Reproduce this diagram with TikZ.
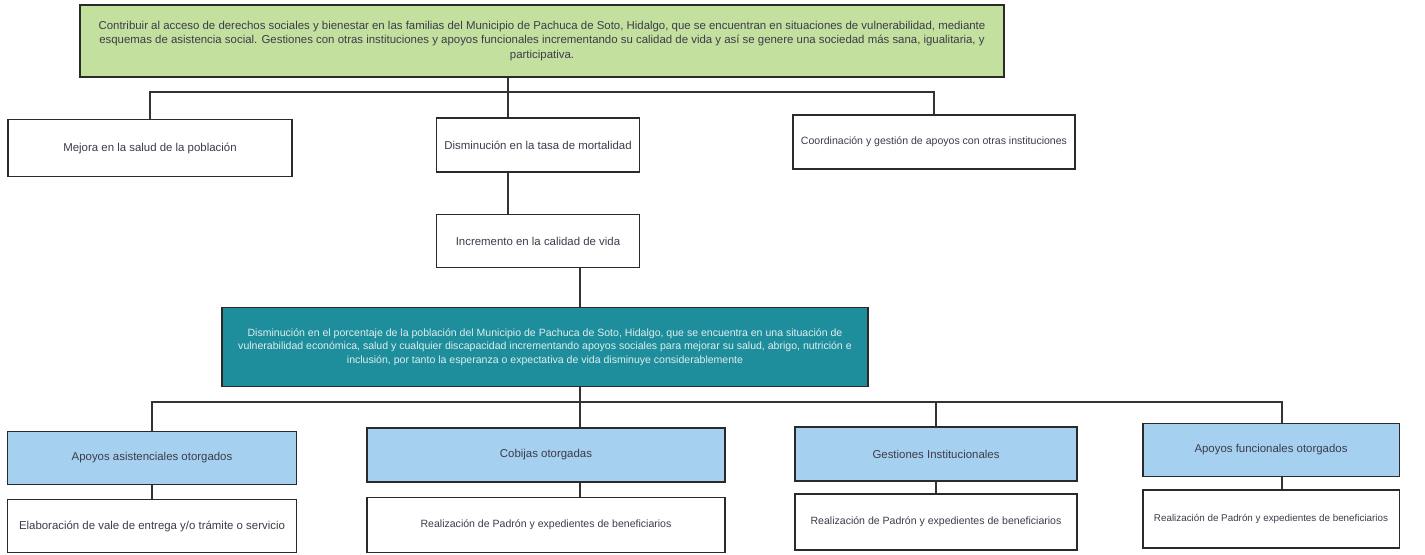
\documentclass[tikz,border=0pt]{standalone}
\usepackage{fontspec}
\setmainfont{Liberation Sans}
\usepackage{tikz}
\usetikzlibrary{positioning, calc}
\definecolor{goalgreen}{HTML}{C3E09F}
\definecolor{problemteal}{HTML}{1F8E9C}
\definecolor{compblue}{HTML}{A5D0F0}
\definecolor{boxline}{HTML}{2A2A2A}
\definecolor{textgrey}{HTML}{3C3C4A}

\tikzset{
  treebox/.style={draw=boxline, line width=1.1pt, inner sep=0pt, align=center,
    font=\fontsize{6.5}{8}\selectfont, text=textgrey},
  smalltext/.style={font=\fontsize{6}{7.6}\selectfont},
  tinytext/.style={font=\fontsize{5.6}{7}\selectfont},
  goalbox/.style={treebox, fill=goalgreen},
  effectbox/.style={treebox, fill=white},
  problembox/.style={treebox, fill=problemteal, text=white!85!problemteal},
  compbox/.style={treebox, fill=compblue},
  actbox/.style={treebox, fill=white},
  link/.style={draw=black!80, line width=0.6pt}
}

\begin{document}
\begin{tikzpicture}[x=0.02cm, y=-0.02cm]
  \useasboundingbox (0,0) rectangle (1425,554);

  % Fin
  \node[goalbox, minimum width=18.5cm, minimum height=1.44cm] (goal) at (542,41)
    {Contribuir al acceso de derechos sociales y bienestar en las familias del Municipio de Pachuca de Soto, Hidalgo, que se encuentran en situaciones de vulnerabilidad, mediante\\
     esquemas de asistencia social. Gestiones con otras instituciones y apoyos funcionales incrementando su calidad de vida y así se genere una sociedad más sana, igualitaria, y\\
     participativa.};

  % Efectos
  \node[effectbox, minimum width=5.68cm, minimum height=1.14cm] (mejora) at (150,148) {Mejora en la salud de la población};
  \node[effectbox, minimum width=4.06cm, minimum height=1.08cm] (dism) at (538,145) {Disminución en la tasa de mortalidad};
  \node[effectbox, smalltext, minimum width=5.64cm, minimum height=1.08cm] (coord) at (934,142) {Coordinación y gestión de apoyos con otras instituciones};
  \node[effectbox, minimum width=4.06cm, minimum height=1.06cm] (incr) at (538,241) {Incremento en la calidad de vida};

  % Proposito
  \node[problembox, smalltext, minimum width=12.92cm, minimum height=1.58cm] (prob) at (545,347)
    {Disminución en el porcentaje de la población del Municipio de Pachuca de Soto, Hidalgo, que se encuentra en una situación de\\
     vulnerabilidad económica, salud y cualquier discapacidad incrementando apoyos sociales para mejorar su salud, abrigo, nutrición e\\
     inclusión, por tanto la esperanza o expectativa de vida disminuye considerablemente};

  % Componentes
  \node[compbox, minimum width=5.78cm, minimum height=1.06cm] (compA) at (152,458) {Apoyos asistenciales otorgados};
  \node[compbox, minimum width=7.16cm, minimum height=1.08cm] (compB) at (546,455) {Cobijas otorgadas};
  \node[compbox, minimum width=5.64cm, minimum height=1.08cm] (compC) at (936,454) {Gestiones Institucionales};
  \node[compbox, minimum width=5.14cm, minimum height=1.06cm] (compD) at (1271,450) {Apoyos funcionales otorgados};

  % Actividades
  \node[actbox, minimum width=5.78cm, minimum height=1.06cm] (actA) at (152,526) {Elaboración de vale de entrega y/o trámite o servicio};
  \node[actbox, smalltext, minimum width=7.16cm, minimum height=1.10cm] (actB) at (546,525) {Realización de Padrón y expedientes de beneficiarios};
  \node[actbox, smalltext, minimum width=5.64cm, minimum height=1.12cm] (actC) at (936,522) {Realización de Padrón y expedientes de beneficiarios};
  \node[actbox, tinytext, minimum width=5.14cm, minimum height=1.16cm] (actD) at (1271,519) {Realización de Padrón y expedientes de beneficiarios};

  % Conectores
  \coordinate (busA) at (508,92);
  \coordinate (busB) at (580,402);
  \coordinate (dropD) at (1282,402);

  \draw[link] (busA |- goal.south) -- (busA |- dism.north);
  \draw[link] (mejora.north) |- (busA) -| (coord.north);
  \draw[link] (busA |- dism.south) -- (busA |- incr.north);
  \draw[link] (busB |- incr.south) -- (busB |- prob.north);
  \draw[link] (busB |- prob.south) -- (busB |- compB.north);
  \draw[link] (compA.north) |- (dropD) -- (dropD |- compD.north);
  \draw[link] (compC.north) -- (compC.north |- busB);

  \draw[link] (compA.south) -- (actA.north);
  \draw[link] (busB |- compB.south) -- (busB |- actB.north);
  \draw[link] (compC.south) -- (actC.north);
  \draw[link] (dropD |- compD.south) -- (dropD |- actD.north);
\end{tikzpicture}
\end{document}
